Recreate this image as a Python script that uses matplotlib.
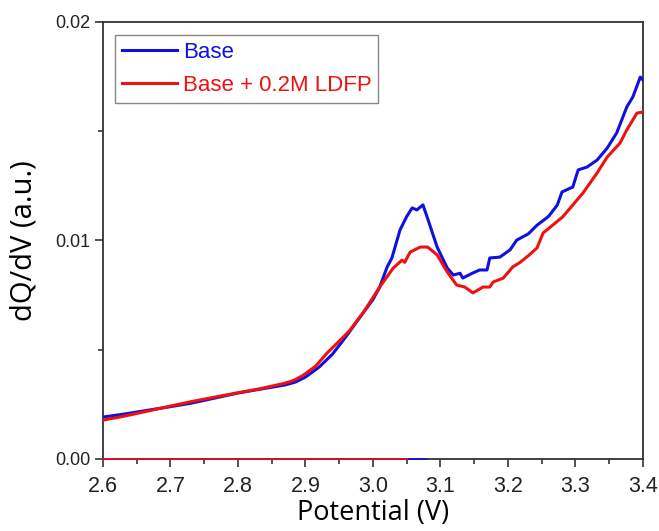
import matplotlib.pyplot as plt
import matplotlib as mpl
from matplotlib.ticker import MultipleLocator, FormatStrFormatter

mpl.rcParams['font.family'] = 'Liberation Sans'

# Base electrolyte
base_v = [2.600, 2.630, 2.660, 2.699, 2.730, 2.760, 2.800, 2.830, 2.870, 2.885, 2.900,
          2.920, 2.940, 2.960, 2.981, 3.000, 3.010, 3.021, 3.028, 3.040, 3.050,
          3.058, 3.065, 3.074, 3.081, 3.095, 3.110, 3.119, 3.129, 3.133, 3.147,
          3.158, 3.169, 3.173, 3.188, 3.203, 3.213, 3.230, 3.243, 3.260, 3.273,
          3.280, 3.296, 3.304, 3.317, 3.332, 3.347, 3.361, 3.376, 3.385, 3.396, 3.400]
base_dqdv = [0.00192, 0.00205, 0.00220, 0.00239, 0.00255, 0.00275, 0.00302, 0.00318, 0.00339, 0.00352, 0.00375,
             0.00420, 0.00480, 0.00560, 0.00650, 0.00730, 0.00787, 0.00879, 0.00920, 0.01048, 0.01110,
             0.01149, 0.01140, 0.01163, 0.01100, 0.00970, 0.00874, 0.00842, 0.00850, 0.00828, 0.00850,
             0.00865, 0.00865, 0.00920, 0.00924, 0.00957, 0.01002, 0.01030, 0.01070, 0.01110, 0.01162,
             0.01222, 0.01245, 0.01323, 0.01336, 0.01368, 0.01423, 0.01492, 0.01611, 0.01657, 0.01748, 0.01734]

# Base + 0.2M LDFP
ldfp_v = [2.600, 2.630, 2.660, 2.704, 2.730, 2.760, 2.803, 2.830, 2.867, 2.883, 2.896,
          2.915, 2.932, 2.956, 2.966, 2.985, 2.991, 3.010, 3.030, 3.043, 3.047, 3.055,
          3.070, 3.081, 3.095, 3.110, 3.124, 3.136, 3.148, 3.163, 3.173, 3.178,
          3.193, 3.207, 3.218, 3.230, 3.243, 3.252, 3.281, 3.311, 3.332, 3.347,
          3.366, 3.376, 3.391, 3.400]
ldfp_dqdv = [0.00178, 0.00195, 0.00215, 0.00245, 0.00262, 0.00280, 0.00305, 0.00320, 0.00345, 0.00360, 0.00382,
             0.00425, 0.00485, 0.00558, 0.00590, 0.00668, 0.00696, 0.00787, 0.00874, 0.00910, 0.00900, 0.00947,
             0.00970, 0.00970, 0.00934, 0.00856, 0.00796, 0.00787, 0.00760, 0.00787, 0.00787, 0.00810,
             0.00828, 0.00879, 0.00900, 0.00930, 0.00966, 0.01034, 0.01108, 0.01217, 0.01309, 0.01382,
             0.01446, 0.01506, 0.01583, 0.01588]

# zero segments along the bottom axis
base_zero_v = [2.600, 3.080]
ldfp_zero_v = [2.600, 3.050]

blue = '#1010e0'
red = '#f01010'

fig = plt.figure(figsize=(6.59, 5.31), dpi=100)
ax = fig.add_axes([0.1563, 0.1356, 0.8194, 0.8230])

ax.plot(base_zero_v, [0, 0], color=blue, lw=1.2, clip_on=False, zorder=4)
ax.plot(ldfp_zero_v, [0, 0], color=red, lw=1.2, clip_on=False, zorder=4)
ax.plot(base_v, base_dqdv, color=blue, lw=2.2, label='Base', zorder=3)
ax.plot(ldfp_v, ldfp_dqdv, color=red, lw=2.2, label='Base + 0.2M LDFP', zorder=3)

ax.set_xlim(2.6, 3.4)
ax.set_ylim(0, 0.02)
ax.xaxis.set_major_locator(MultipleLocator(0.1))
ax.xaxis.set_minor_locator(MultipleLocator(0.05))
ax.yaxis.set_major_locator(MultipleLocator(0.01))
ax.yaxis.set_minor_locator(MultipleLocator(0.005))
ax.xaxis.set_major_formatter(FormatStrFormatter('%.1f'))
ax.yaxis.set_major_formatter(FormatStrFormatter('%.2f'))

for s in ax.spines.values():
    s.set_color('#333333')
    s.set_linewidth(1.3)
ax.tick_params(which='both', direction='out', color='#333333', width=1.2,
               top=False, right=False)
ax.tick_params(which='major', length=6)
ax.tick_params(which='minor', length=3.5)
ax.tick_params(axis='x', labelsize=15.5, pad=6, labelcolor='#222222')
ax.tick_params(axis='y', labelsize=13, pad=3, labelcolor='#222222')

ax.set_xlabel('Potential (V)', fontsize=19.5, family='Open Sans', labelpad=2)
ax.set_ylabel('dQ/dV (a.u.)', fontsize=21, family='Open Sans', labelpad=12)

leg = ax.legend(loc='upper left', bbox_to_anchor=(0.022, 0.97), fontsize=16,
                handlelength=2.5, handletextpad=0.25, borderpad=0.3,
                labelspacing=0.55, borderaxespad=0, fancybox=False, framealpha=1)
leg.get_frame().set_edgecolor('#888888')
leg.get_frame().set_linewidth(1.0)
for txt, line in zip(leg.get_texts(), leg.get_lines()):
    txt.set_color(line.get_color())

fig.savefig('out.png', dpi=100)
